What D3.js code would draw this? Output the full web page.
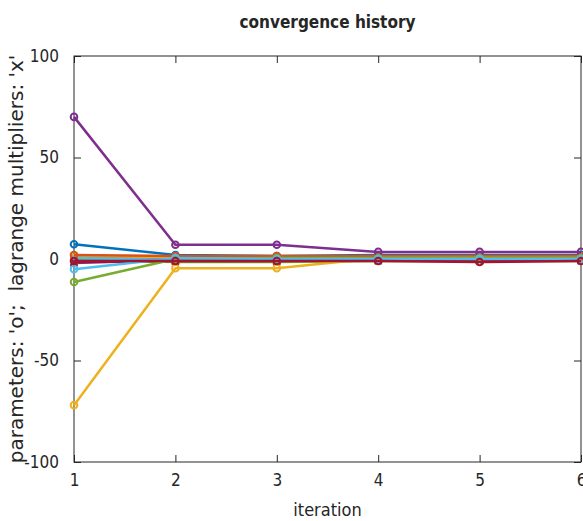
<!DOCTYPE html>
<html lang="en">
<head>
<meta charset="UTF-8">
<title>convergence history</title>
<script src="https://d3js.org/d3.v7.min.js"></script>
<style>
  body { margin: 0; background: #fff; }
  text { font-family: "DejaVu Sans Condensed", "DejaVu Sans", sans-serif; fill: #262626; }
</style>
</head>
<body>
<svg id="plot" width="583" height="521"></svg>
<script>
    // iterations on the x axis
    const iterations = [1, 2, 3, 4, 5, 6];
    const xTicks = [1, 2, 3, 4, 5, 6];
    const yTicks = [-100, -50, 0, 50, 100];

    // parameters (plotted with 'o')
    const params = [
        [7.3, 2.0, 1.5, 2.0, 2.0, 2.0],
        [2.0, 1.5, 1.5, 1.5, 1.5, 1.5],
        [-72, -4.5, -4.5, 0.5, 0.5, 0.5],
        [70, 7.0, 7.0, 3.5, 3.5, 3.5],
        [-11.3, 0.0, 0.5, 0.5, 0.5, 0.5],
        [-5.0, 0.5, 0.0, 0.0, 0.0, 0.0],
        [-1.0, -1.0, -1.0, -1.0, -1.5, -1.0]
    ];
    // lagrange multipliers (plotted with 'x')
    const multipliers = [
        [0.0, 0.0, 0.0, 0.0, -1.0, 0.0],
        [1.0, 0.5, 0.5, 0.5, 0.5, 0.5],
        [1.5, 1.0, 1.0, 1.0, 1.0, 1.0],
        [-2.0, -0.5, -0.5, -0.5, -0.5, -0.5],
        [-0.5, -1.5, -1.5, -1.0, -1.0, -1.0],
        [0.5, -0.5, -0.5, 0.0, 0.0, 0.0],
        [-1.5, -1.0, -1.0, -0.5, -0.5, -0.5]
    ];
    const colors = ["#0072BD", "#D95319", "#EDB120", "#7E2F8E", "#77AC30", "#4DBEEE", "#A2142F"];

    const mLeft = 74, mRight = 581, mTop = 56, mBottom = 462;
    const svg = d3.select("#plot");

    const x = d3.scaleLinear().domain([1, 6]).range([mLeft, mRight]);
    const y = d3.scaleLinear().domain([-100, 100]).range([mBottom, mTop]);

    // axes box with inward ticks (octave style)
    const tickLen = 7;
    svg.append("g")
        .attr("transform", "translate(0," + mBottom + ")")
        .call(d3.axisBottom(x).tickValues(xTicks).tickFormat(d => String(d)).tickSizeInner(-tickLen).tickSizeOuter(0).tickPadding(12))
        .call(g => g.select(".domain").remove());
    svg.append("g")
        .attr("transform", "translate(0," + mTop + ")")
        .call(d3.axisTop(x).tickValues(xTicks).tickFormat("").tickSizeInner(-tickLen).tickSizeOuter(0))
        .call(g => g.select(".domain").remove());
    svg.append("g")
        .attr("transform", "translate(" + mLeft + ",0)")
        .call(d3.axisLeft(y).tickValues(yTicks).tickFormat(d => String(d)).tickSizeInner(-tickLen).tickSizeOuter(0).tickPadding(15))
        .call(g => g.select(".domain").remove());
    svg.append("g")
        .attr("transform", "translate(" + mRight + ",0)")
        .call(d3.axisRight(y).tickValues(yTicks).tickFormat("").tickSizeInner(-tickLen).tickSizeOuter(0))
        .call(g => g.select(".domain").remove());

    svg.selectAll(".tick line").attr("stroke", "#262626");
    svg.selectAll(".tick text").style("font-size", "17px").attr("fill", "#262626");

    svg.append("rect")
        .attr("x", mLeft).attr("y", mTop)
        .attr("width", mRight - mLeft).attr("height", mBottom - mTop)
        .attr("fill", "none").attr("stroke", "#262626").attr("stroke-width", 1);

    const line = d3.line()
        .x((d, i) => x(iterations[i]))
        .y(d => y(d));

    const series = [];
    params.forEach((s, i) => series.push({ values: s, color: colors[i % colors.length], marker: "o" }));
    multipliers.forEach((s, i) => series.push({ values: s, color: colors[(i + params.length) % colors.length], marker: "x" }));
    // draw multipliers first so parameters sit on top like the original
    const order = series.slice(params.length).concat(series.slice(0, params.length));

    const plot = svg.append("g");
    order.forEach(s => {
        const g = plot.append("g");
        g.append("path")
            .attr("d", line(s.values))
            .attr("fill", "none")
            .attr("stroke", s.color)
            .attr("stroke-width", 2.5);
        if (s.marker === "o") {
            g.selectAll("circle").data(s.values).join("circle")
                .attr("cx", (d, i) => x(iterations[i]))
                .attr("cy", d => y(d))
                .attr("r", 3.3)
                .attr("fill", "none")
                .attr("stroke", s.color)
                .attr("stroke-width", 2);
        } else {
            g.selectAll("path.mk").data(s.values).join("path")
                .attr("class", "mk")
                .attr("d", (d, i) => {
                    const cx = x(iterations[i]), cy = y(d), r = 3.5;
                    return "M" + (cx - r) + "," + (cy - r) + "L" + (cx + r) + "," + (cy + r) +
                           "M" + (cx - r) + "," + (cy + r) + "L" + (cx + r) + "," + (cy - r);
                })
                .attr("stroke", s.color)
                .attr("stroke-width", 2);
        }
    });

    svg.append("text")
        .attr("x", (mLeft + mRight) / 2).attr("y", 28)
        .attr("text-anchor", "middle")
        .style("font-size", "17px").style("font-weight", "bold")
        .attr("fill", "#000")
        .text("convergence history");

    svg.append("text")
        .attr("x", (mLeft + mRight) / 2).attr("y", 516)
        .attr("text-anchor", "middle")
        .style("font-size", "18px")
        .text("iteration");

    svg.append("text")
        .attr("transform", "translate(23," + (mTop + mBottom) / 2 + ") rotate(-90)")
        .attr("text-anchor", "middle")
        .style("font-family", "'DejaVu Sans', sans-serif")
        .style("font-size", "20px")
        .style("white-space", "pre")
        .text("parameters: 'o';  lagrange multipliers: 'x'");
</script>
</body>
</html>
